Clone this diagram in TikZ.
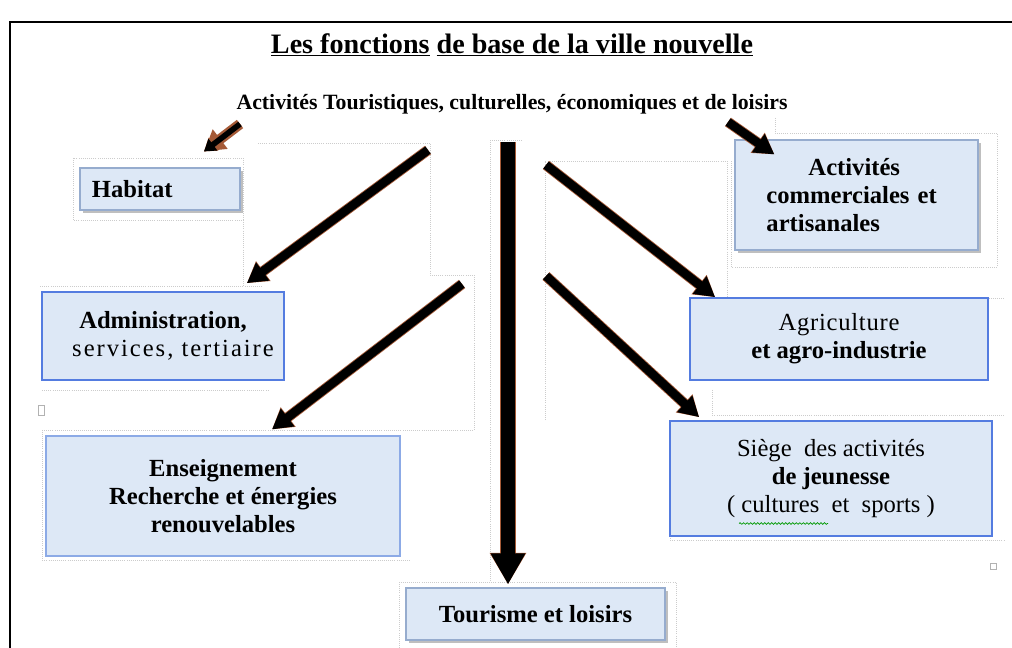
\documentclass[tikz,border=0pt]{standalone}
\usepackage{fontspec}
\setmainfont{Liberation Serif}
\newfontfamily\spacedfont{Liberation Serif}[LetterSpace=8]
\newfontfamily\lightspaced{Liberation Serif}[LetterSpace=3]
\usetikzlibrary{arrows.meta,shadows,calc,decorations.pathmorphing}

\definecolor{boxfill}{RGB}{221,232,246}
\definecolor{boxline}{RGB}{150,172,206}
\definecolor{boxblue}{RGB}{84,124,224}
\definecolor{arrowedge}{RGB}{165,90,55}

\tikzset{
  func/.style={fill=boxfill, draw=boxline, line width=0.8pt, inner sep=0pt,
    align=center, font=\bfseries\fontsize{17.5}{20}\selectfont},
  funcshadow/.style={func, drop shadow={shadow xshift=2pt, shadow yshift=-2pt,
    fill=gray, opacity=0.5}},
  funcblue/.style={func, draw=boxblue, line width=1.2pt},
  farrow/.style={line width=6.2pt, -{Triangle[length=14pt,width=15pt]},
    preaction={draw=arrowedge, line width=7.4pt,
      -{Triangle[length=14.5pt,width=16.5pt]}}},
  fsmall/.style={farrow, line width=4pt, -{Triangle[length=8pt,width=10pt]},
    preaction={draw=arrowedge, line width=5pt,
      -{Triangle[length=8.5pt,width=11pt]}}},
  fmain/.style={line width=10pt, -{Triangle[length=22pt,width=23pt]},
    preaction={draw=arrowedge, line width=11.2pt,
      -{Triangle[length=22.5pt,width=24.5pt]}}},
  ghost/.style={draw=gray!40, densely dotted, line width=0.5pt}
}

\begin{document}
\begin{tikzpicture}[x=0.025cm, y=-0.025cm]
  \useasboundingbox (0,0) rectangle (1012,648);

  % page frame
  \draw[line width=1.5pt] (10,660) -- (10,22) -- (1020,22);

  % text box outlines left by the editor
  \draw[ghost] (73,158) rectangle (243,220);
  \draw[ghost] (243,220) -- (243,286);
  \draw[ghost] (40,286) -- (263,286);
  \draw[ghost] (42,390) -- (268,390);
  \draw[ghost] (258,143) -- (430,143) -- (430,275) -- (474,275) -- (474,430)
    -- (42,430) -- (42,560) -- (410,560);
  \draw[ghost] (522,140) -- (490,140) -- (490,582);
  \draw[ghost] (399,648) -- (399,582) -- (676,582) -- (676,648);
  \draw[ghost] (545,420) -- (545,161) -- (727,161) -- (727,298) -- (1005,298);
  \draw[ghost] (775,118) -- (775,133) -- (997,133) -- (997,267) -- (731,267)
    -- (731,160);
  \draw[ghost] (712,390) -- (712,415) -- (1005,415);
  \draw[ghost] (670,420) -- (670,540) -- (1005,540);
  \draw[gray!60] (38,405) rectangle (44,415);
  \draw[gray!60] (990,563) rectangle (996,569);

  % titles
  \node[font=\bfseries\fontsize{20}{24}\selectfont] (title) at (512,45)
    {\underline{Les fonctions}\ \underline{de base de la ville nouvelle}};
  \node[font=\bfseries\fontsize{15.5}{18}\selectfont] (sub) at (512,104)
    {Activités Touristiques, culturelles, économiques et de loisirs};

  % functions
  \node[funcshadow, minimum width=4cm, minimum height=1.05cm, text width=3.4cm,
    align=left] (habitat) at (160,189) {Habitat};
  \node[funcshadow, minimum width=6.075cm, minimum height=2.75cm,
    text width=4.5cm, align=left] (commerce) at (856.5,195)
    {\hspace*{1.05cm}Activités\\ commerciales et\\ artisanales};
  \node[funcblue, minimum width=6.05cm, minimum height=2.2cm] (admin)
    at (163,336) {Administration,\\ \hspace*{0.5cm}{\mdseries\spacedfont services,\ tertiaire}};
  \node[funcblue, minimum width=7.45cm, minimum height=2.05cm] (agri)
    at (839,339) {{\mdseries\lightspaced Agriculture}\\ et agro-industrie};
  \node[func, draw={rgb,255:red,140;green,170;blue,230}, minimum width=8.85cm,
    minimum height=3cm] (ens) at (223,496)
    {Enseignement\\ Recherche et énergies\\ renouvelables};
  \node[funcblue, minimum width=8.05cm, minimum height=2.875cm] (siege)
    at (831,478.5) {{\mdseries Siège\ \ des activités}\\ de jeunesse\\
    {\mdseries (\ cultures\ \ et\ \ sports\ )}};
  \node[funcshadow, minimum width=6.475cm, minimum height=1.3cm] (tour)
    at (535.5,614) {Tourisme et loisirs};

  \draw[green!60!black, line width=0.5pt, decorate,
    decoration={snake, amplitude=0.6pt, segment length=2.5pt}]
    ($(siege.center)+(-92,45)$) -- ($(siege.center)+(-3,45)$);

  % arrows
  \coordinate (s1) at (240,124);
  \coordinate (s2) at (428,150);
  \coordinate (s3) at (462,284);
  \coordinate (s4) at (508,142);
  \coordinate (s5) at (728,122);
  \coordinate (s6) at (546,165);
  \coordinate (s7) at (546,276);
  \draw[fsmall] (s1) -- ($(habitat.north)+(44,-16)$);
  \draw[farrow] (s2) -- ($(admin.north east)+(-38,-8)$);
  \draw[farrow] (s3) -- ($(ens.north)+(49,-6)$);
  \draw[fmain] (s4) -- ($(tour.north)+(-27.5,-3)$);
  \draw[farrow] (s5) -- ($(commerce.north west)+(40,15)$);
  \draw[farrow] (s6) -- ($(agri.north west)+(26,0)$);
  \draw[farrow] (s7) -- ($(siege.north west)+(30,-3)$);
\end{tikzpicture}
\end{document}
